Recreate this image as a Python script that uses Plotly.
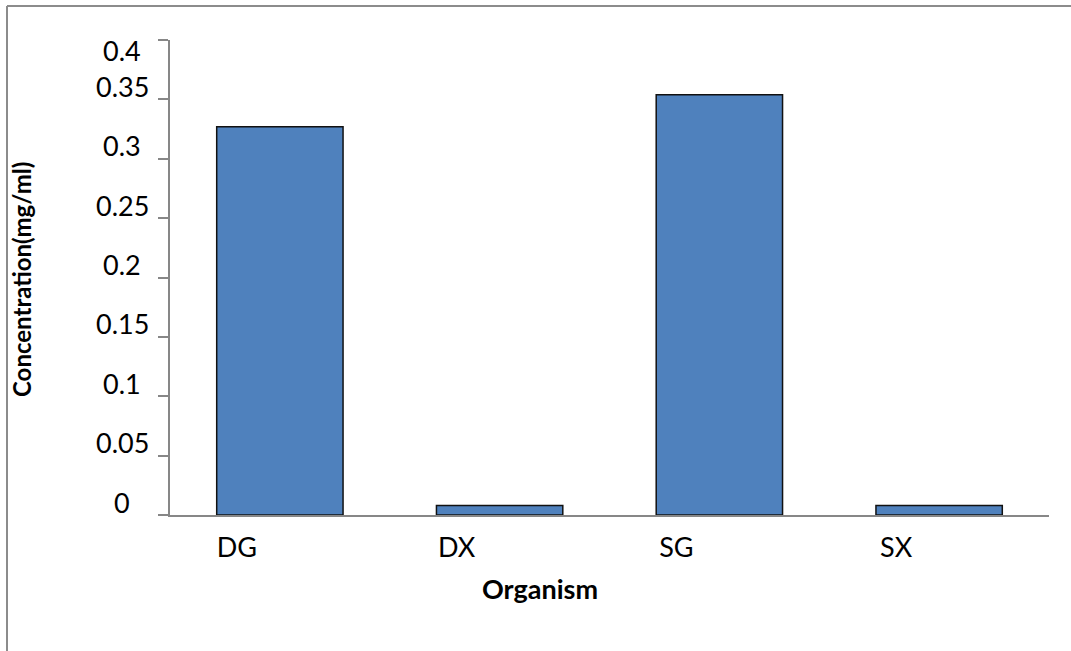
import plotly.graph_objects as go

# Protein concentration per organism sample
organisms = ["DG", "DX", "SG", "SX"]
concentration = [0.327, 0.008, 0.354, 0.008]

y_tick_values = [0, 0.05, 0.1, 0.15, 0.2, 0.25, 0.3, 0.35, 0.4]
y_tick_labels = ["0", "0.05", "0.1", "0.15", "0.2", "0.25", "0.3", "0.35", "0.4"]

FONT = "Lato"
AXIS_GREY = "#878787"

fig = go.Figure(
    go.Bar(
        x=organisms,
        y=concentration,
        marker=dict(color="#4F81BD", line=dict(color="#111111", width=1.5)),
    )
)

# plot area in pixels (for placing the outer frame and labels)
W, H = 1071, 651
L, R, T, B = 170, 22, 40, 136
pw, ph = W - L - R, H - T - B


def px_x(x):
    return (x - L) / pw


def px_y(y):
    return (H - B - y) / ph


# value labels on the y axis, sitting just above their tick marks
annotations = [
    dict(x=px_x(122), xref="paper", y=v, yref="y", text=t,
         showarrow=False, xanchor="center", yanchor="middle",
         yshift=(-10 if v == max(y_tick_values) else 13),
         font=dict(size=27, family=FONT, color="#000000"))
    for v, t in zip(y_tick_values, y_tick_labels)
]
# axis titles
annotations.append(
    dict(x=px_x(21), xref="paper", y=px_y(280), yref="paper",
         text="<b>Concentration(mg/ml)</b>", textangle=-90,
         showarrow=False, xanchor="center", yanchor="middle",
         font=dict(size=24, family=FONT, color="#000000"))
)
annotations.append(
    dict(x=px_x(540), xref="paper", y=px_y(588), yref="paper",
         text="<b>Organism</b>",
         showarrow=False, xanchor="center", yanchor="middle",
         font=dict(size=27, family=FONT, color="#000000"))
)

fig.update_layout(
    width=W,
    height=H,
    margin=dict(l=L, r=R, t=T, b=B),
    paper_bgcolor="white",
    plot_bgcolor="white",
    bargap=0.425,
    showlegend=False,
    font=dict(family=FONT, color="#000000"),
    xaxis=dict(
        showline=True,
        linecolor=AXIS_GREY,
        linewidth=2,
        ticks="",
        tickfont=dict(size=27, family=FONT),
        ticklabelshift=-43,
        ticklabelstandoff=8,
        showgrid=False,
        zeroline=False,
    ),
    yaxis=dict(
        range=[0, 0.4],
        tickvals=y_tick_values,
        showticklabels=False,
        showline=True,
        linecolor=AXIS_GREY,
        linewidth=2,
        ticks="outside",
        ticklen=10,
        tickwidth=2,
        tickcolor=AXIS_GREY,
        showgrid=False,
        zeroline=False,
    ),
    annotations=annotations,
    shapes=[
        # chart frame (top and left edges)
        dict(type="line", xref="paper", yref="paper",
             x0=px_x(7), x1=px_x(W + 5), y0=px_y(6), y1=px_y(6),
             line=dict(color="#8c8c8c", width=2)),
        dict(type="line", xref="paper", yref="paper",
             x0=px_x(7), x1=px_x(7), y0=px_y(6), y1=px_y(H + 5),
             line=dict(color="#8c8c8c", width=2)),
    ],
)

fig.write_html("out.html")
